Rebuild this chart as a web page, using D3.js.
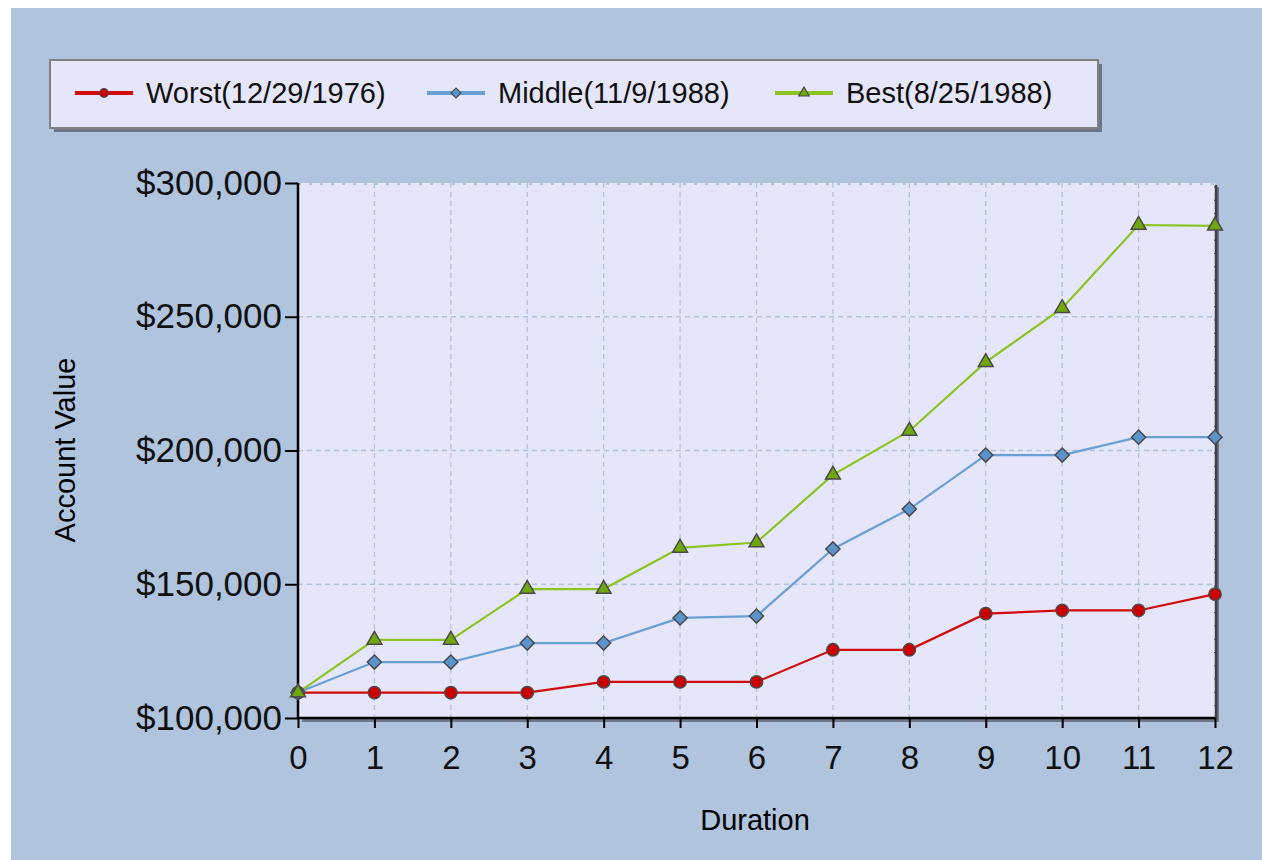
<!DOCTYPE html>
<html>
<head>
  <meta charset="utf-8">
  <script src="https://d3js.org/d3.v7.min.js"></script>
  <style>
    body { margin: 0; background: #fff; }
    svg { display: block; font-family: "Liberation Sans", Arial, sans-serif; }
  </style>
</head>
<body>
  <svg width="1262" height="860"></svg>

  <script>
    // Chart values
    var durations = [0, 1, 2, 3, 4, 5, 6, 7, 8, 9, 10, 11, 12];
    var seriesNames = ["Worst(12/29/1976)", "Middle(11/9/1988)", "Best(8/25/1988)"];
    var worstValues = [109500, 109500, 109500, 109500, 113500, 113500, 113500, 125500, 125500, 139000, 140200, 140200, 146300];
    var middleValues = [109500, 120900, 120900, 128000, 128000, 137400, 138100, 163200, 178100, 198300, 198300, 205000, 205000];
    var bestValues = [109500, 129200, 129200, 148200, 148200, 163600, 165600, 190900, 207300, 233000, 253200, 284300, 284000];
    var yTicks = [100000, 150000, 200000, 250000, 300000];

    var series = [
      { name: seriesNames[0], values: worstValues, line: "#d10a0a", fill: "#cc0000", shape: "circle" },
      { name: seriesNames[1], values: middleValues, line: "#6a9fd4", fill: "#5b93cc", shape: "diamond" },
      { name: seriesNames[2], values: bestValues, line: "#8cc320", fill: "#6fa80c", shape: "triangle" }
    ];

    var svg = d3.select("svg");

    // Background panel
    svg.append("rect")
      .attr("x", 11).attr("y", 8)
      .attr("width", 1251).attr("height", 852)
      .attr("fill", "#b0c4de");

    var plotLeft = 298, plotRight = 1215, plotTop = 183, plotBottom = 718;

    var x = d3.scaleLinear().domain([0, 12]).range([plotLeft, plotRight]);
    var y = d3.scaleLinear().domain([100000, 300000]).range([plotBottom, plotTop]);

    // Plot area shadow + fill
    svg.append("rect")
      .attr("x", plotLeft + 4).attr("y", plotTop + 4)
      .attr("width", plotRight - plotLeft).attr("height", plotBottom - plotTop)
      .attr("fill", "#6b7686");
    svg.append("rect")
      .attr("x", plotLeft).attr("y", plotTop)
      .attr("width", plotRight - plotLeft).attr("height", plotBottom - plotTop)
      .attr("fill", "#e6e6fa");

    // Grid lines
    svg.append("g")
      .selectAll("line")
      .data(durations.filter(d => d > 0 && d < 12))
      .enter().append("line")
      .attr("x1", d => x(d)).attr("x2", d => x(d))
      .attr("y1", plotTop).attr("y2", plotBottom)
      .attr("stroke", "#b0c4de").attr("stroke-width", 1.3)
      .attr("stroke-dasharray", "5,4");
    svg.append("g")
      .selectAll("line")
      .data(yTicks.filter(d => d > 100000 && d < 300000))
      .enter().append("line")
      .attr("x1", plotLeft).attr("x2", plotRight)
      .attr("y1", d => y(d)).attr("y2", d => y(d))
      .attr("stroke", "#b0c4de").attr("stroke-width", 1.3)
      .attr("stroke-dasharray", "5,4");

    // Top border dotted, right border dark with small ticks
    svg.append("line")
      .attr("x1", plotLeft).attr("x2", plotRight)
      .attr("y1", plotTop + 1).attr("y2", plotTop + 1)
      .attr("stroke", "#b0c4de").attr("stroke-width", 2)
      .attr("stroke-dasharray", "3,8");
    svg.append("line")
      .attr("x1", plotRight + 1).attr("x2", plotRight + 1)
      .attr("y1", plotTop + 2).attr("y2", plotBottom)
      .attr("stroke", "#404040").attr("stroke-width", 2.5);
    svg.append("g")
      .selectAll("line")
      .data(d3.range(0, 41))
      .enter().append("line")
      .attr("x1", plotRight - 1).attr("x2", plotRight + 1)
      .attr("y1", d => plotTop + 4 + d * 13.3).attr("y2", d => plotTop + 4 + d * 13.3)
      .attr("stroke", "#404040").attr("stroke-width", 1);

    // Axes
    var yAxis = d3.axisLeft(y)
      .tickValues(yTicks)
      .tickSize(13)
      .tickPadding(3)
      .tickFormat(d => "$" + d3.format(",")(d));
    var yG = svg.append("g").attr("transform", "translate(" + plotLeft + ",0)").call(yAxis);

    var xAxis = d3.axisBottom(x)
      .tickValues(durations)
      .tickSize(10)
      .tickPadding(18)
      .tickFormat(d3.format("d"));
    var xG = svg.append("g").attr("transform", "translate(0," + plotBottom + ")").call(xAxis);

    [yG, xG].forEach(function(g) {
      g.select(".domain").attr("stroke", "#000").attr("stroke-width", 2.5);
      g.selectAll(".tick line").attr("stroke", "#000").attr("stroke-width", 2);
      g.selectAll(".tick text")
        .attr("fill", "#111")
        .style("font-size", "33px")
        .style("font-family", "\"Liberation Sans\", Arial, sans-serif");
    });
    yG.selectAll(".tick text").style("font-size", "35px");
    yG.select(".domain").attr("d", "M0," + plotTop + "V" + plotBottom);
    xG.select(".domain").attr("d", "M" + plotLeft + ",0H" + plotRight);

    // Axis titles
    svg.append("text")
      .attr("x", 755).attr("y", 830)
      .attr("text-anchor", "middle")
      .style("font-size", "29px")
      .text("Duration");
    svg.append("text")
      .attr("transform", "translate(75,450) rotate(-90)")
      .attr("text-anchor", "middle")
      .style("font-size", "29px")
      .text("Account Value");

    // Marker shapes (diamond = square turned 45 degrees)
    function markerPath(shape, scale) {
      if (shape === "circle") return d3.symbol().type(d3.symbolCircle).size(120 * scale)();
      if (shape === "triangle") return d3.symbol().type(d3.symbolTriangle).size(95 * scale)();
      return d3.symbol().type(d3.symbolSquare).size(100 * scale)();
    }

    var line = d3.line()
      .x((d, i) => x(durations[i]))
      .y(d => y(d));

    series.forEach(function(s) {
      svg.append("path")
        .attr("d", line(s.values))
        .attr("fill", "none")
        .attr("stroke", s.line)
        .attr("stroke-width", 2.2);
    });

    series.forEach(function(s) {
      svg.append("g")
        .selectAll("path")
        .data(s.values)
        .enter().append("path")
        .attr("transform", (d, i) => "translate(" + x(durations[i]) + "," + y(d) + ")" +
          (s.shape === "diamond" ? " rotate(45)" : ""))
        .attr("d", markerPath(s.shape, 1))
        .attr("fill", s.fill)
        .attr("stroke", "#4a4a4a")
        .attr("stroke-width", 1.5);
    });

    // Legend
    svg.append("rect")
      .attr("x", 54).attr("y", 64)
      .attr("width", 1048).attr("height", 68)
      .attr("fill", "#6b7686");
    svg.append("rect")
      .attr("x", 50).attr("y", 60)
      .attr("width", 1048).attr("height", 68)
      .attr("fill", "#e6e6fa")
      .attr("stroke", "#808080").attr("stroke-width", 2);

    var legendX = [75, 427, 775];
    series.forEach(function(s, i) {
      var g = svg.append("g").attr("transform", "translate(" + legendX[i] + ",93)");
      g.append("line")
        .attr("x1", 0).attr("x2", 58)
        .attr("stroke", s.line).attr("stroke-width", 4);
      g.append("path")
        .attr("transform", "translate(29,0)" + (s.shape === "diamond" ? " rotate(45)" : ""))
        .attr("d", markerPath(s.shape, 0.5))
        .attr("fill", s.fill)
        .attr("stroke", "#4a4a4a").attr("stroke-width", 1.2);
      g.append("text")
        .attr("x", 71).attr("y", 10)
        .style("font-size", "29px")
        .attr("fill", "#111")
        .text(s.name);
    });
  </script>
</body>
</html>
